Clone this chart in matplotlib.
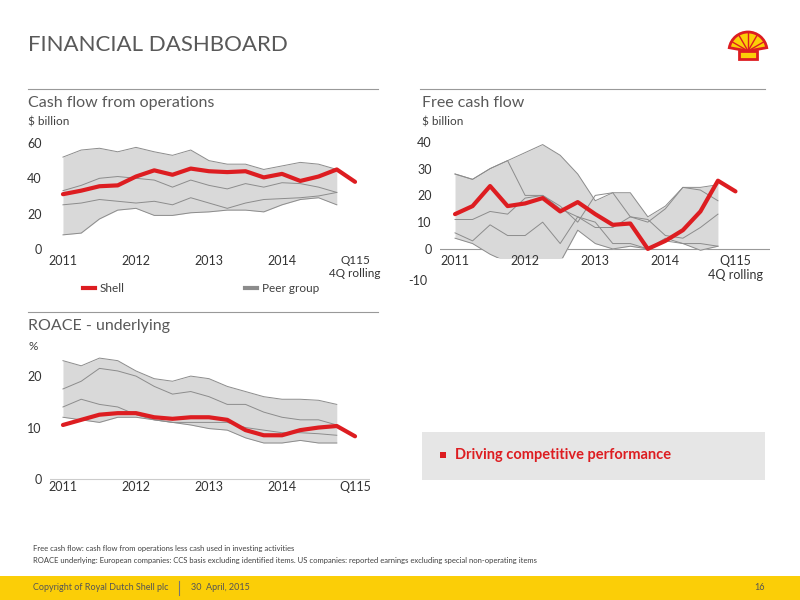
import matplotlib
matplotlib.use("Agg")
import matplotlib.pyplot as plt
from matplotlib.patches import Rectangle, Wedge
import numpy as np

plt.rcParams['font.family'] = ['Lato', 'DejaVu Sans']

quarters = list(range(17))
peer_q = list(range(16))
xtick_labels = ["2011", "2012", "2013", "2014", "Q115"]

cffo_shell = [31, 33, 35.5, 36, 41, 44.5, 42, 45.5, 44, 43.5, 44, 40.5, 42.5, 38.5, 41, 45, 38]
cffo_max = [52, 56, 57, 55, 57.5, 55, 53, 56, 50, 48, 48, 45, 47, 49, 48, 45]
cffo_min = [8, 9, 17, 22, 23, 19, 19, 20.5, 21, 22, 22, 21, 25, 28, 29, 25]
cffo_p1 = [33, 36, 40, 41, 40, 39, 35, 39, 36, 34, 37, 35, 37.5, 37, 35, 32]
cffo_p2 = [25, 26, 28, 27, 26, 27, 25, 29, 26, 23, 26, 28, 28.5, 29, 30, 32]

fcf_shell = [13, 16, 23.5, 16, 17, 19, 14, 17.5, 13, 9, 9.5, 0, 3, 7, 14, 25.5, 21.5]
fcf_max = [28, 26, 30, 33, 36, 39, 35, 28, 18, 21, 21, 12, 16, 23, 23, 24]
fcf_min = [4, 2, -2, -5, -4, -4, -5, 7, 2, 0, 1, 0, 4, 2, -0.5, 1]
fcf_p1 = [11, 11, 14, 13, 19, 20, 15, 12, 8, 8, 12, 11, 5, 4, 8, 13]
fcf_p2 = [6, 3, 9, 5, 5, 10, 2, 12, 10, 2, 2, 0, 3, 2, 2, 1]
fcf_p3 = [28, 26, 30, 33, 20, 20, 16, 10, 20, 21, 12, 10, 15, 23, 22, 18]

roace_shell = [10.5, 11.5, 12.5, 12.8, 12.8, 12, 11.7, 12, 12, 11.5, 9.5, 8.5, 8.5, 9.5, 10, 10.3, 8.3]
roace_max = [23, 22, 23.5, 23, 21, 19.5, 19, 20, 19.5, 18, 17, 16, 15.5, 15.5, 15.3, 14.5]
roace_min = [12, 11.5, 11, 12, 12, 11.5, 11, 10.5, 9.8, 9.5, 8, 7, 7, 7.5, 7, 7]
roace_p1 = [17.5, 19, 21.5, 21, 20, 18, 16.5, 17, 16, 14.5, 14.5, 13, 12, 11.5, 11.5, 10.5]
roace_p2 = [14, 15.5, 14.5, 14, 12.5, 11.5, 11, 11, 11, 11, 10, 9.5, 9, 9, 8.8, 8.5]

RED = "#DD1D21"
GREY_FILL = "#D9D9D9"
GREY_LINE = "#8C8C8C"
TXT = "#404040"

W, H = 800, 600
fig = plt.figure(figsize=(8, 6), dpi=100)
fig.patch.set_facecolor("white")

def px_axes(l, t, r, b):
    return fig.add_axes([l / W, 1 - b / H, (r - l) / W, (b - t) / H])

def ftext(x, y, s, **kw):
    fig.text(x / W, 1 - y / H, s, **kw)

def panel(ax, shell, pmax, pmin, inner, xlim, ylim, yticks, xticklabels):
    ax.fill_between(peer_q, pmin, pmax, color=GREY_FILL, lw=0)
    ax.plot(peer_q, pmax, color=GREY_LINE, lw=0.7)
    ax.plot(peer_q, pmin, color=GREY_LINE, lw=0.7)
    for p in inner:
        ax.plot(peer_q, p, color=GREY_LINE, lw=0.7)
    ax.plot(quarters, shell, color=RED, lw=3, solid_capstyle="round", solid_joinstyle="round")
    ax.set_xlim(*xlim)
    ax.set_ylim(*ylim)
    ax.set_yticks(yticks)
    ax.set_xticks([0, 4, 8, 12, 16])
    ax.set_xticklabels(xticklabels)
    for s in ax.spines.values():
        s.set_visible(False)
    ax.tick_params(length=0, labelsize=9, colors="#333333")
    ax.tick_params(axis="x", pad=-2)
    ax.tick_params(axis="y", pad=6)
    ax.set_facecolor("none")

# Title
ftext(28, 45, "FINANCIAL DASHBOARD", fontsize=16, color="#595959", va="center")
# Logo
logo = fig.add_axes([726 / W, 1 - 66 / H, 44 / W, 44 / H])
logo.set_xlim(-1.1, 1.1); logo.set_ylim(-1.1, 1.1); logo.axis("off")
logo.add_patch(Wedge((0, -0.35), 0.95, 10, 170, facecolor="#FBCE07", edgecolor=RED, lw=2))
logo.add_patch(Rectangle((-0.45, -0.75), 0.9, 0.4, facecolor="#FBCE07", edgecolor=RED, lw=2))
for a in np.linspace(30, 150, 5):
    r = np.radians(a)
    logo.plot([0, 0.9 * np.cos(r)], [-0.35, -0.35 + 0.9 * np.sin(r)], color=RED, lw=1)

# Section rules and headings
for (x0, x1, y) in [(28, 378, 89), (420, 765, 89), (28, 378, 312)]:
    fig.add_artist(plt.Line2D([x0 / W, x1 / W], [1 - y / H, 1 - y / H], color="#999999", lw=0.8))
ftext(28, 103, "Cash flow from operations", fontsize=11.5, color="#595959", va="center")
ftext(28, 122, "$ billion", fontsize=8.5, color=TXT, va="center")
ftext(422, 103, "Free cash flow", fontsize=11.5, color="#595959", va="center")
ftext(422, 122, "$ billion", fontsize=8.5, color=TXT, va="center")
ftext(28, 326, "ROACE - underlying", fontsize=11.5, color="#595959", va="center")
ftext(28, 346, "%", fontsize=8.5, color=TXT, va="center")

# Chart 1
ax1 = px_axes(50, 135, 370, 258)
panel(ax1, cffo_shell, cffo_max, cffo_min, [cffo_p1, cffo_p2], (-0.71, 16.82), (-5.1, 64.5),
      [0, 20, 40, 60], ["2011", "2012", "2013", "2014", "Q115\n4Q rolling"])
ax1.get_xticklabels()[-1].set_fontsize(8.5)

# Chart 2
ax2 = px_axes(440, 132, 770, 258)
panel(ax2, fcf_shell, fcf_max, fcf_min, [fcf_p1, fcf_p2, fcf_p3], (-0.857, 17.97), (-3.4, 43.7),
      [0, 10, 20, 30, 40], ["2011", "2012", "2013", "2014", "Q115\n4Q rolling"])
ax2.axhline(0, color="#999999", lw=0.8, zorder=0)
ax2.text(-1.6, -12, "-10", ha="right", va="center", fontsize=9, color="#333333", clip_on=False)

# Chart 3
ax3 = px_axes(50, 355, 370, 484)
panel(ax3, roace_shell, roace_max, roace_min, [roace_p1, roace_p2], (-0.71, 16.82), (-0.97, 24.1),
      [0, 10, 20], xtick_labels)
ax3.axhline(0, color="#CCCCCC", lw=0.8, zorder=0)

# Legend
fig.add_artist(plt.Line2D([83 / W, 95 / W], [1 - 288 / H] * 2, color=RED, lw=3))
ftext(100, 288, "Shell", fontsize=8.5, color=TXT, va="center")
fig.add_artist(plt.Line2D([245 / W, 257 / W], [1 - 288 / H] * 2, color=GREY_LINE, lw=3))
ftext(262, 288, "Peer group", fontsize=8.5, color=TXT, va="center")

# Grey box
fig.add_artist(Rectangle((422 / W, 1 - 480 / H), 343 / W, 48 / H, transform=fig.transFigure,
                         facecolor="#E6E6E6", edgecolor="none"))
fig.add_artist(Rectangle((440 / W, 1 - 458 / H), 6 / W, 6 / H, transform=fig.transFigure,
                         facecolor=RED, edgecolor="none"))
ftext(455, 455, "Driving competitive performance", fontsize=10.5, color=RED, va="center", weight="bold")

# Footnotes
ftext(33, 549, "Free cash flow: cash flow from operations less cash used in investing activities",
      fontsize=5.5, color=TXT, va="center")
ftext(33, 560, "ROACE underlying: European companies: CCS basis excluding identified items. US companies: reported earnings excluding special non-operating items",
      fontsize=5.5, color=TXT, va="center")

# Footer band
fig.add_artist(Rectangle((0, 0), 1, 24 / H, transform=fig.transFigure, facecolor="#FBCE07", edgecolor="none"))
ftext(33, 588, "Copyright of Royal Dutch Shell plc", fontsize=6.5, color="#555555", va="center")
fig.add_artist(plt.Line2D([179 / W, 179 / W], [1 - 581 / H, 1 - 595 / H], color="#777777", lw=0.8))
ftext(191, 588, "30  April, 2015", fontsize=6.5, color="#555555", va="center")
ftext(765, 588, "16", fontsize=6.5, color="#555555", va="center", ha="right")

fig.savefig("out.png", dpi=100)
